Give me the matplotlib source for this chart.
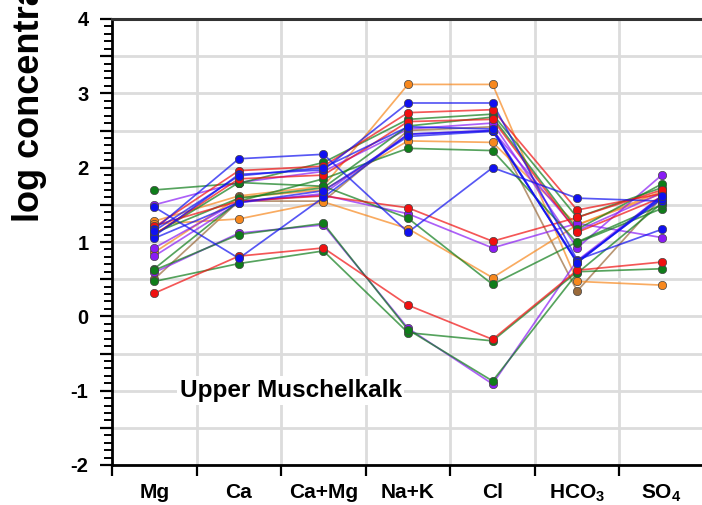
import matplotlib
matplotlib.use("Agg")
import matplotlib.pyplot as plt
from matplotlib.ticker import MultipleLocator, FixedLocator, FuncFormatter

plt.rcParams['font.family'] = ['Liberation Sans', 'DejaVu Sans']
plt.rcParams['font.weight'] = 'bold'
plt.rcParams['mathtext.fontset'] = 'custom'
plt.rcParams['mathtext.rm'] = 'Liberation Sans:bold'
plt.rcParams['mathtext.bf'] = 'Liberation Sans:bold'
plt.rcParams['mathtext.default'] = 'bf'

categories = ['Mg', 'Ca', 'Ca+Mg', 'Na+K', 'Cl', r'HCO$_3$', r'SO$_4$']

# log concentrations per sample: Mg, Ca, Ca+Mg, Na+K, Cl, HCO3, SO4
brown_1  = [0.50, 1.55, 1.55, 2.50, 2.55, 0.34, 1.60]
blue_1   = [1.17, 2.12, 2.18, 1.13, 2.00, 1.59, 1.55]
blue_2   = [1.47, 0.78, 1.60, 2.45, 2.50, 0.72, 1.60]
blue_3   = [1.08, 1.91, 1.97, 2.87, 2.87, 0.76, 1.17]
blue_4   = [1.05, 1.53, 1.69, 2.42, 2.49, 0.74, 1.58]
blue_5   = [1.15, 1.89, 2.00, 2.55, 2.52, 0.72, 1.62]
red_1    = [1.20, 1.96, 2.02, 2.74, 2.78, 1.43, 1.65]
red_2    = [0.31, 0.81, 0.92, 0.15, -0.31, 0.62, 0.73]
red_3    = [1.22, 1.55, 1.62, 1.46, 1.01, 1.33, 1.70]
red_4    = [1.10, 1.85, 1.90, 2.62, 2.65, 1.13, 1.60]
green_1  = [1.70, 1.79, 2.07, 2.65, 2.72, 1.33, 1.73]
green_2  = [1.12, 1.59, 1.73, 2.56, 2.68, 1.17, 1.78]
green_3  = [0.64, 1.55, 1.85, 2.26, 2.23, 0.99, 1.45]
green_4  = [0.47, 0.71, 0.88, -0.22, -0.33, 0.60, 0.64]
green_5  = [1.10, 1.80, 1.75, 1.32, 0.43, 1.00, 1.50]
green_6  = [0.62, 1.10, 1.25, -0.18, -0.87, 0.58, 1.52]
orange_1 = [1.28, 1.62, 1.75, 3.12, 3.12, 0.47, 0.42]
orange_2 = [1.24, 1.31, 1.54, 1.18, 0.52, 1.23, 1.65]
orange_3 = [0.86, 1.60, 1.70, 2.36, 2.34, 1.23, 1.68]
purple_1 = [1.50, 1.80, 1.95, 2.52, 2.60, 0.92, 1.90]
purple_2 = [0.92, 1.55, 1.63, 1.38, 0.92, 1.25, 1.06]
purple_3 = [0.59, 1.12, 1.23, -0.16, -0.91, 0.75, 1.62]
purple_4 = [0.81, 1.53, 1.65, 2.45, 2.50, 1.15, 1.66]

samples = [
    (brown_1, '#9a6a3a'),
    (orange_1, '#f7881e'), (orange_2, '#f7881e'), (orange_3, '#f7881e'),
    (purple_1, '#8a1cf5'), (purple_2, '#8a1cf5'), (purple_3, '#8a1cf5'), (purple_4, '#8a1cf5'),
    (green_1, '#0f7d1a'), (green_2, '#0f7d1a'), (green_3, '#0f7d1a'), (green_4, '#0f7d1a'),
    (green_5, '#0f7d1a'), (green_6, '#0f7d1a'),
    (red_1, '#f01010'), (red_2, '#f01010'), (red_3, '#f01010'), (red_4, '#f01010'),
    (blue_1, '#1010f0'), (blue_2, '#1010f0'), (blue_3, '#1010f0'), (blue_4, '#1010f0'), (blue_5, '#1010f0'),
]

fig = plt.figure(figsize=(7.02, 5.05), dpi=100)
ax = fig.add_axes([112/702, 40/505, 592/702, 446/505])

xs = [i + 0.5 for i in range(len(categories))]
for z, (vals, col) in enumerate(samples):
    ax.plot(xs, vals, color=col, lw=1.25, alpha=0.7, zorder=3 + z * 0.01)
    ax.plot(xs, vals, ls='none', marker='o', ms=6, mfc=col, mec='#444444', mew=0.5,
            zorder=4 + z * 0.01)

ax.set_xlim(0, 7)
ax.set_ylim(-2, 4)

# grid
for gx in range(1, 7):
    ax.axvline(gx, color='#dcdcdc', lw=2, zorder=1)
for k in range(13):
    gy = -2 + 0.5 * k
    ax.axhline(gy, color='#dcdcdc', lw=2, zorder=1)

# x ticks at boundaries, labels at centers
ax.xaxis.set_major_locator(FixedLocator(list(range(0, 8))))
ax.xaxis.set_major_formatter(FuncFormatter(lambda v, p: ''))
ax.xaxis.set_minor_locator(FixedLocator(xs))
ax.set_xticklabels(categories, minor=True)
ax.tick_params(axis='x', which='major', direction='out', length=8, width=1.6, color='black')
ax.tick_params(axis='x', which='minor', length=0, pad=13, labelsize=15)

# y ticks
ax.yaxis.set_major_locator(MultipleLocator(0.5))
ax.yaxis.set_minor_locator(MultipleLocator(0.1))
ax.yaxis.set_major_formatter(FuncFormatter(lambda v, p: f'{int(round(v))}' if abs(v - round(v)) < 1e-6 else ''))
ax.tick_params(axis='y', which='major', direction='out', length=9, width=1.6, pad=8, labelsize=14.5)
ax.tick_params(axis='y', which='minor', direction='out', length=6, width=1.4)

for lab in ax.get_xticklabels(minor=True) + ax.get_yticklabels():
    lab.set_fontweight('bold')

ax.spines['left'].set_linewidth(2)
ax.spines['left'].set_color('black')
ax.spines['bottom'].set_linewidth(2)
ax.spines['bottom'].set_color('black')
ax.spines['top'].set_linewidth(2.2)
ax.spines['top'].set_color('#333333')
ax.spines['right'].set_visible(False)

ax.text(0.8, -1.0, 'Upper Muschelkalk', fontsize=17.5, fontweight='bold', ha='left', va='center',
        bbox=dict(facecolor='white', edgecolor='none', pad=2), zorder=2)

fig.text(30/702, 1 - 222/505, 'log concentration (meq/L)', rotation=90, fontsize=26,
         fontweight='bold', ha='center', va='bottom')

fig.savefig('out.png', dpi=100)
